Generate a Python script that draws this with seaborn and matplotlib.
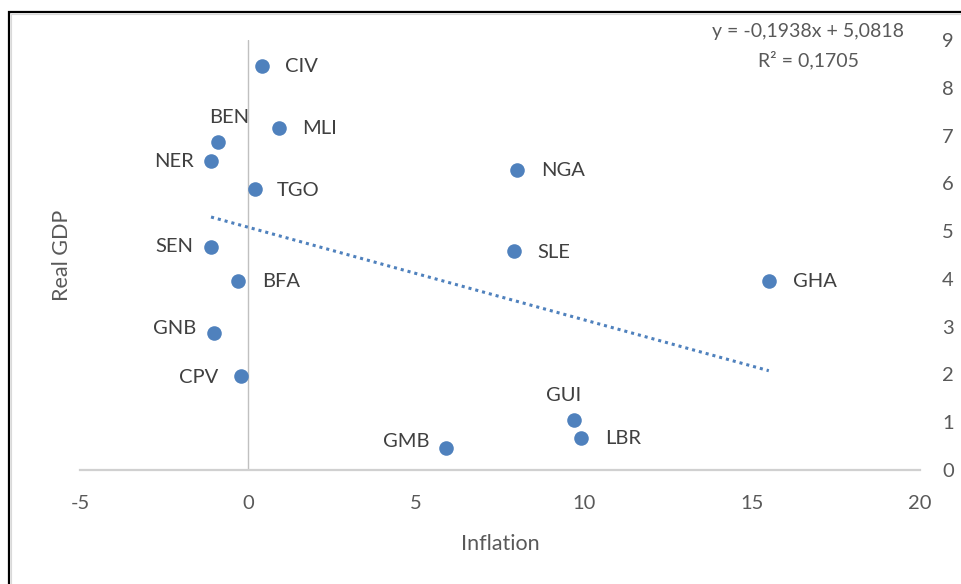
import matplotlib
matplotlib.use("Agg")
import matplotlib.pyplot as plt
import seaborn as sns
import numpy as np
import pandas as pd
from matplotlib.patches import Rectangle

# ---- data ----
countries = ["CIV", "MLI", "BEN", "NER", "TGO", "NGA", "SEN", "SLE",
             "BFA", "GHA", "GNB", "CPV", "GUI", "LBR", "GMB"]
inflation = [0.42, 0.92, -0.89, -1.10, 0.21, 8.00, -1.10, 7.92,
             -0.30, 15.50, -1.01, -0.21, 9.70, 9.91, 5.89]
real_gdp = [8.45, 7.15, 6.86, 6.46, 5.88, 6.28, 4.67, 4.58,
            3.95, 3.95, 2.87, 1.97, 1.05, 0.67, 0.46]
trend_slope = -0.1938
trend_intercept = 5.0818
r_squared = 0.1705
x_ticks = [-5, 0, 5, 10, 15, 20]
y_ticks = [0, 1, 2, 3, 4, 5, 6, 7, 8, 9]

# label placement (pixel offsets, alignment)
label_pos = {
    "CIV": (23, 0, "left"), "MLI": (23, 0, "left"), "TGO": (22, -1, "left"),
    "NGA": (24, -1, "left"), "SLE": (23, -1, "left"), "BFA": (24, 0, "left"),
    "GHA": (24, 0, "left"), "LBR": (24, -1, "left"),
    "NER": (-17, 0, "right"), "SEN": (-18, 0, "right"), "GNB": (-18, 4, "right"),
    "CPV": (-23, -2, "right"), "GMB": (-16, 7, "right"),
    "BEN": (11, 25, "center"), "GUI": (-10, 24, "center"),
}

df = pd.DataFrame({"country": countries, "Inflation": inflation, "Real GDP": real_gdp})

sns.set_theme(style="white")
plt.rcParams["font.family"] = ["Lato", "DejaVu Sans"]
plt.rcParams["axes.unicode_minus"] = False

TXT = "#595959"
BLUE = "#4F81BD"

fig = plt.figure(figsize=(9.61, 5.84), dpi=100)
ax = fig.add_axes([80 / 961, 1 - 470 / 584, 840 / 961, 430 / 584])

sns.scatterplot(data=df, x="Inflation", y="Real GDP", ax=ax, s=110,
                color=BLUE, edgecolor=BLUE, linewidth=0, zorder=3)

# trend line over data range
xs = np.array([min(inflation), max(inflation)])
tl = pd.DataFrame({"x": xs, "y": trend_slope * xs + trend_intercept})
sns.lineplot(data=tl, x="x", y="y", ax=ax, color=BLUE, linewidth=2.2,
             linestyle=(0, (1, 1.3)), zorder=2)

ax.set_xlim(-5, 20)
ax.set_ylim(0, 9)
ax.set_xticks(x_ticks)
ax.set_yticks(y_ticks)
ax.yaxis.tick_right()
ax.tick_params(axis="both", length=0, labelsize=14.5, colors=TXT)
ax.tick_params(axis="x", pad=18)
ax.tick_params(axis="y", pad=16)

for s in ["top", "right", "left"]:
    ax.spines[s].set_visible(False)
ax.spines["bottom"].set_color("#D0D0D0")
ax.spines["bottom"].set_linewidth(1.6)
ax.axvline(0, color="#C0C0C0", linewidth=1.0, zorder=1)

ax.set_xlabel("Inflation", fontsize=15.5, color=TXT, labelpad=16)
ax.set_ylabel("")
fig.text(62 / 961, 1 - 255 / 584, "Real GDP", rotation=90, fontsize=15.5,
         color=TXT, ha="center", va="center")

for c, x, y in zip(countries, inflation, real_gdp):
    dx, dy, ha = label_pos[c]
    ax.annotate(c, (x, y), xytext=(dx, dy), textcoords="offset pixels",
                ha=ha, va="center", fontsize=14.5, color="#404040")

eq = "y = " + f"{trend_slope:.4f}".replace(".", ",") + "x + " + f"{trend_intercept:.4f}".replace(".", ",")
fig.text(808 / 961, 1 - 32 / 584, eq, fontsize=14, color=TXT, ha="center", va="center")
fig.text(808 / 961, 1 - 60 / 584, "R² = " + f"{r_squared:.4f}".replace(".", ","),
         fontsize=14, color=TXT, ha="center", va="center")

# frame of the chart (top & left visible)
fig.patches.append(Rectangle((8.5 / 961, -0.1), 1.2, 1 - 12 / 584 + 0.1,
                             transform=fig.transFigure, fill=False,
                             edgecolor="black", linewidth=1.6))
fig.patches.append(Rectangle((10.5 / 961, -0.1), 1.2, 1 - 14 / 584 + 0.1,
                             transform=fig.transFigure, fill=False,
                             edgecolor="#D9D9D9", linewidth=0.8))

fig.savefig("out.png", dpi=100)
